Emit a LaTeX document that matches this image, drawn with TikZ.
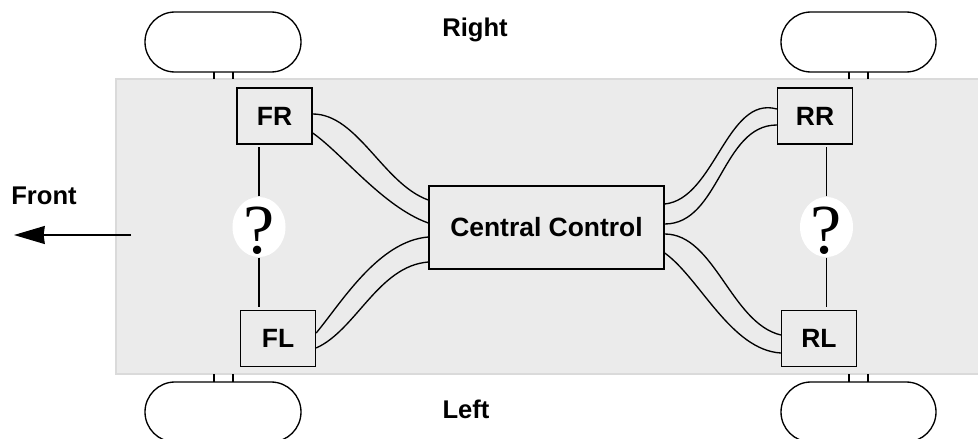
\documentclass[tikz,border=0pt]{standalone}
\usepackage{fontspec}
\setmainfont{Liberation Sans}
\newfontfamily\qfont{Liberation Serif}
\usetikzlibrary{shapes.geometric,arrows.meta,calc}

\definecolor{bodygray}{RGB}{235,235,235}
\definecolor{bodyedge}{RGB}{218,218,218}

\tikzset{
	unit/.style = {draw, minimum width=1.875cm, minimum height=1.4cm, inner sep=0pt,
		font=\bfseries\fontsize{18.8}{21}\selectfont},
	query/.style = {ellipse, fill=white, inner sep=0pt, minimum width=1.325cm,
		minimum height=1.5cm, text height=0pt, text depth=0pt,
		font=\qfont\fontsize{50}{52}\selectfont},
	side/.style = {font=\bfseries\fontsize{18.2}{20}\selectfont},
}

\begin{document}
\begin{tikzpicture}[x=0.025cm, y=-0.025cm, line width=0.95pt]
	\useasboundingbox (0,0) rectangle (978,439);
	% car body
	\fill[bodygray] (116,79) rectangle (990,374);
	\draw[bodyedge] (990,79) -- (116,79) -- (116,374) -- (990,374);
	% wheels
	\draw[rounded corners=0.75cm] (145,12) rectangle (301,72);
	\draw[rounded corners=0.75cm] (781,12) rectangle (936,72);
	\draw[rounded corners=0.75cm] (145,382) rectangle (301,442);
	\draw[rounded corners=0.75cm] (781,382) rectangle (936,442);
	\draw (214,72) -- (214,79);
	\draw (233,72) -- (233,79);
	\draw (849,72) -- (849,79);
	\draw (868,72) -- (868,79);
	\draw (214,374) -- (214,382);
	\draw (233,374) -- (233,382);
	\draw (849,374) -- (849,382);
	\draw (868,374) -- (868,382);
	% controllers
	\node[unit] (FR) at (274.5,116) {FR};
	\node[unit] (FL) at (278,338.5) {FL};
	\node[unit] (RR) at (815,116) {RR};
	\node[unit] (RL) at (819,338.5) {RL};
	\node[unit, minimum width=5.875cm, minimum height=2.075cm] (CC) at (546.5,227.5) {Central Control};
	% wires to the central control
	\draw ($(FR.east)+(0,-2)$) .. controls +(45,0) and +(-45,-16) .. ($(CC.west)+(0,-27.5)$);
	\draw ($(FR.east)+(0,17)$) .. controls +(30,21) and +(-45,-16) .. ($(CC.west)+(0,-4.5)$);
	\draw ($(FL.east)+(0,-5.5)$) .. controls +(25,-30) and +(-50,4) .. ($(CC.west)+(0,9.5)$);
	\draw ($(FL.east)+(0,9.5)$) .. controls +(40,-18) and +(-50,4) .. ($(CC.west)+(0,34.5)$);
	\draw ($(CC.east)+(0,-23.5)$) .. controls +(50,-5) and +(-50,-14) .. ($(RR.west)+(0,-7)$);
	\draw ($(CC.east)+(0,-3.5)$) .. controls +(55,0) and +(-55,0) .. ($(RR.west)+(0,9)$);
	\draw ($(CC.east)+(0,6.5)$) .. controls +(50,0) and +(-50,-12) .. ($(RL.west)+(0,-3.5)$);
	\draw ($(CC.east)+(0,25.5)$) .. controls +(35,25) and +(-50,-3) .. ($(RL.west)+(0,14.5)$);
	% unknown links
	\node[query] (QL) at (259,227) {\raisebox{-0.37em}{?}};
	\node[query] (QR) at (826.5,227) {\raisebox{-0.37em}{?}};
	\draw[shorten >=2pt] (QL.north) -- (QL.north |- FR.south);
	\draw[shorten >=2pt] (QL.south) -- (QL.south |- FL.north);
	\draw[shorten >=2pt] (QR.north) -- (QR.north |- RR.south);
	\draw[shorten >=2pt] (QR.south) -- (QR.south |- RL.north);
	% direction
	\node[side] (front) at (44,196) {Front};
	\coordinate (tail) at (131,235);
	\coordinate (tip) at (14,235);
	\draw[-{Stealth[length=0.77cm, width=0.45cm, inset=0.03cm]}] (tail) -- (tip);
	\node[side, anchor=base] (right) at (475,37) {Right};
	\node[side, anchor=base] (left) at (466,418) {Left};
\end{tikzpicture}
\end{document}
